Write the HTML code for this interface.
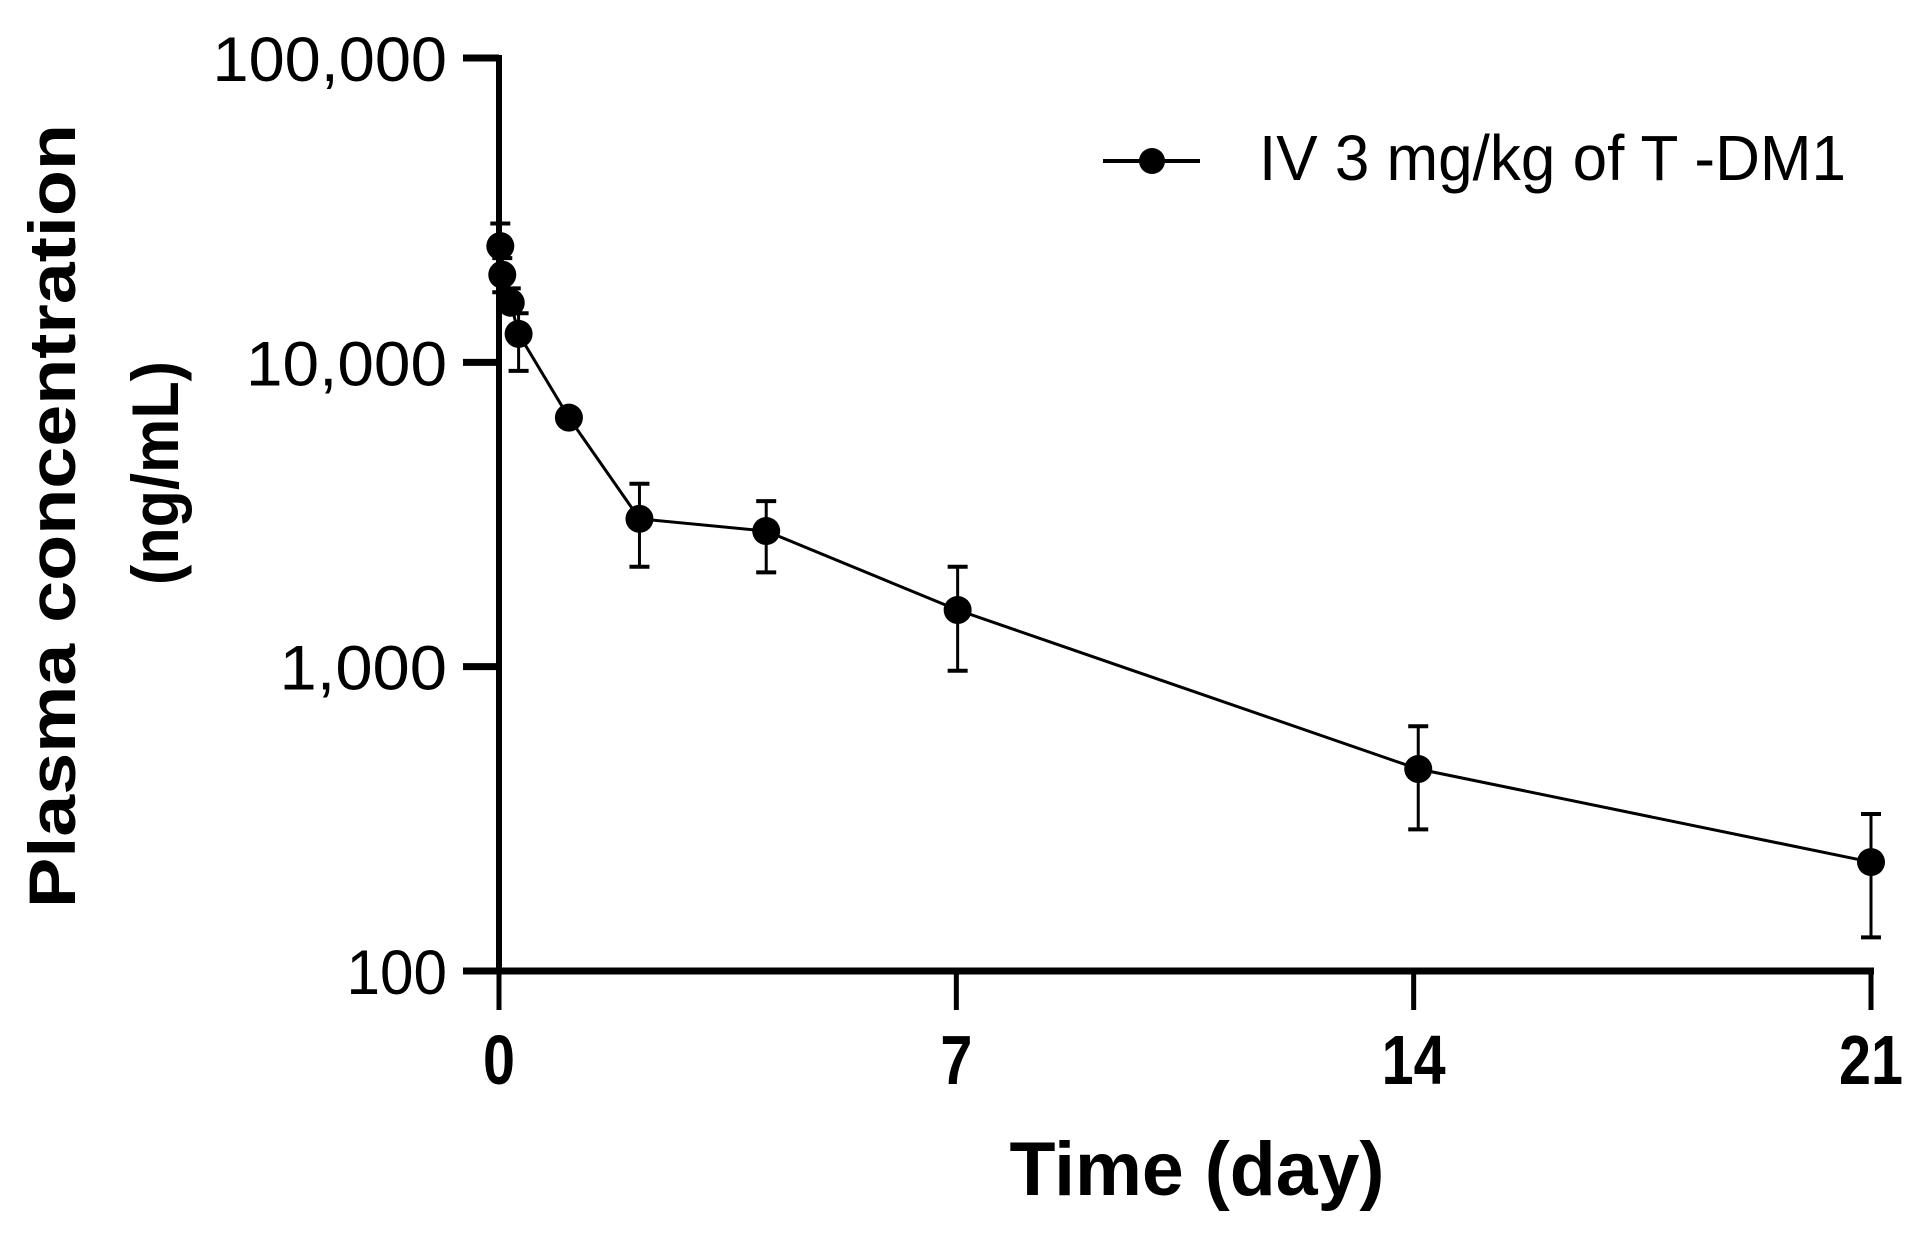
<!DOCTYPE html>
<html><head><meta charset="utf-8"><style>html,body{margin:0;padding:0;background:#fff}svg{display:block}text{font-family:"Liberation Sans",Arial,sans-serif;fill:#000}</style></head>
<body>
<svg id="chart" width="1931" height="1233" viewBox="0 0 1931 1233" xmlns="http://www.w3.org/2000/svg">
<g id="axes"></g>
<g id="series"></g>
<text transform="translate(75,516) rotate(-90)" text-anchor="middle" font-weight="bold" font-size="66" textLength="784" lengthAdjust="spacingAndGlyphs">Plasma concentration</text>
<text transform="translate(178,473) rotate(-90)" text-anchor="middle" font-weight="bold" font-size="66" textLength="224" lengthAdjust="spacingAndGlyphs">(ng/mL)</text>
<text x="1197" y="1195" text-anchor="middle" font-weight="bold" font-size="76" textLength="375" lengthAdjust="spacingAndGlyphs">Time (day)</text>
<g>
<line x1="1103" y1="161" x2="1200" y2="161" stroke="#000" stroke-width="4"/>
<circle cx="1152" cy="161" r="13" fill="#000"/>
<text x="1259" y="180" font-size="64" textLength="587" lengthAdjust="spacingAndGlyphs">IV 3 mg/kg of T -DM1</text>
</g>
</svg>
<script>
const times = [0.02, 0.05, 0.18, 0.3, 1.07, 2.15, 4.09, 7.02, 14.07, 21];
const conc = [24100, 19400, 15700, 12400, 6580, 3060, 2790, 1535, 461, 228];
const errUpper = [28600, 22000, 17500, 14500, 6900, 3990, 3500, 2130, 637, 328];
const errLower = [20000, 17000, 14700, 9370, 6300, 2130, 2040, 970, 292, 129];
const xTicks = [0, 7, 14, 21];
const yTicks = [100, 1000, 10000, 100000];
const yTickLabels = ["100", "1,000", "10,000", "100,000"];

const NS = "http://www.w3.org/2000/svg";
const X0 = 499, X1 = 1871, XMAX = 21;
const Y0 = 971, YTOP = 58;
function xs(t){ return X0 + (t / XMAX) * (X1 - X0); }
function ys(v){ return Y0 - (Math.log10(v) - 2) / 3 * (Y0 - YTOP); }
function mk(tag, attrs, parent){ const e = document.createElementNS(NS, tag); for (const k in attrs) e.setAttribute(k, attrs[k]); parent.appendChild(e); return e; }

const axes = document.getElementById('axes');
let e;
e = mk('line', {x1: X0, y1: YTOP - 3, x2: X0, y2: Y0 + 3, stroke: '#000', 'stroke-width': 6}, axes);


e = mk('line', {x1: X0 - 36, y1: Y0, x2: X1 + 3, y2: Y0, stroke: '#000', 'stroke-width': 7}, axes);


yTicks.forEach((v, i) => {
  const y = ys(v);
  const t = mk('line', {x1: X0 - 36, y1: y, x2: X0, y2: y, stroke: '#000', 'stroke-width': 7}, axes);
  
  
  const lb = mk('text', {x: 447, y: y + 23, 'text-anchor': 'end', 'font-size': 63}, axes);
  lb.textContent = yTickLabels[i];
  lb.setAttribute('textLength', yTickLabels[i].length * 33.5);
  lb.setAttribute('lengthAdjust', 'spacingAndGlyphs');
  
  
});
xTicks.forEach(v => {
  const x = xs(v);
  const t = mk('line', {x1: x, y1: Y0, x2: x, y2: Y0 + 39, stroke: '#000', 'stroke-width': 5}, axes);
  
  
  const lb = mk('text', {x: x, y: 1084, 'text-anchor': 'middle', 'font-weight': 'bold', 'font-size': 70}, axes);
  lb.textContent = String(v);
  lb.setAttribute('textLength', String(v).length * 32);
  lb.setAttribute('lengthAdjust', 'spacingAndGlyphs');
  
  
});

const ser = document.getElementById('series');
const pts = times.map((t, i) => xs(t) + ',' + ys(conc[i])).join(' ');
e = mk('polyline', {points: pts, fill: 'none', stroke: '#000', 'stroke-width': 3}, ser);


times.forEach((t, i) => {
  const x = xs(t);
  const g = mk('g', {}, ser);
  
  
  const yu = ys(errUpper[i]), yl = ys(errLower[i]);
  mk('line', {x1: x, y1: yu, x2: x, y2: yl, stroke: '#000', 'stroke-width': 3}, g);
  mk('line', {x1: x - 10, y1: yu, x2: x + 10, y2: yu, stroke: '#000', 'stroke-width': 4}, g);
  mk('line', {x1: x - 10, y1: yl, x2: x + 10, y2: yl, stroke: '#000', 'stroke-width': 4}, g);
});
times.forEach((t, i) => {
  const c = mk('circle', {cx: xs(t), cy: ys(conc[i]), r: 14, fill: '#000'}, ser);
  
  
});
</script>
</body></html>
